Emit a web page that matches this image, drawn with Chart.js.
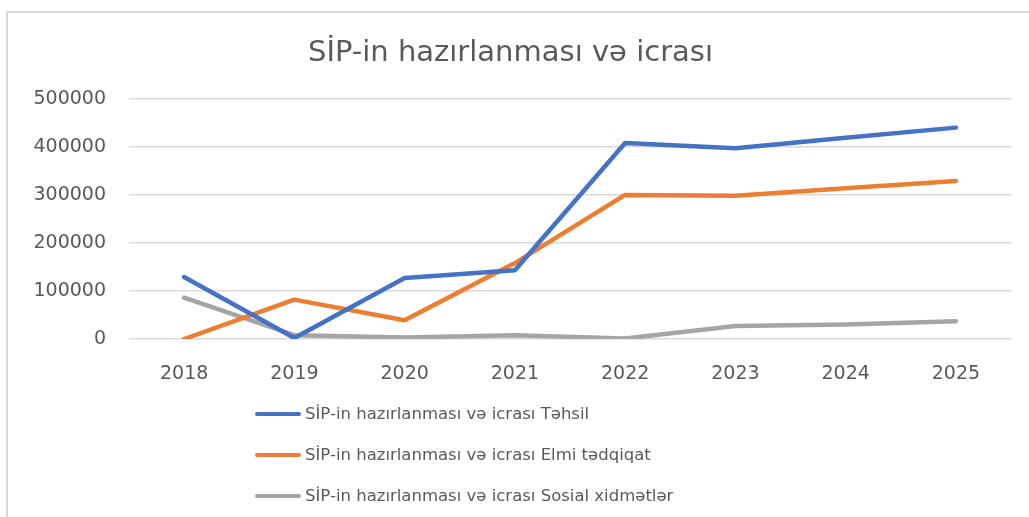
<!DOCTYPE html>
<html lang="az">
<head>
    <meta charset="UTF-8">
    <title>SİP-in hazırlanması və icrası</title>
    <script src="https://cdn.jsdelivr.net/npm/chart.js"></script>
    <style>
        body {
            margin: 0;
            padding: 0;
            background-color: #ffffff;
            overflow: hidden;
        }
        .wrap {
            position: relative;
            width: 1029px;
            height: 517px;
            overflow: hidden;
        }
        .frame {
            position: absolute;
            left: 6px;
            top: 11px;
            width: 1100px;
            height: 600px;
            border: 2px solid #d9d9d9;
        }
        #chart {
            position: absolute;
            left: 0;
            top: 0;
        }
        #legend {
            position: absolute;
            left: 255px;
            top: 400px;
            font-family: "DejaVu Sans", sans-serif;
            font-size: 16.5px;
            color: #595959;
        }
        #legend .item {
            height: 41px;
            display: flex;
            align-items: center;
            position: relative;
            top: -7px;
        }
        #legend .line {
            width: 46px;
            height: 4px;
            border-radius: 2px;
            margin-right: 4px;
        }
    </style>
</head>
<body>
    <div class="wrap">
        <div class="frame"></div>
        <canvas id="chart" width="1029" height="517"></canvas>
        <div id="legend"></div>
    </div>

    <script>
        // chart data
        const years = ['2018', '2019', '2020', '2021', '2022', '2023', '2024', '2025'];
        const tehsil = [129000, 2000, 127000, 143000, 408000, 397000, 419000, 440000];
        const elmiTedqiqat = [0, 82000, 39000, 158000, 300000, 298000, 314000, 329000];
        const sosialXidmetler = [86000, 8000, 3000, 8000, 1000, 27000, 30000, 37000];
        const yTicks = [0, 100000, 200000, 300000, 400000, 500000];

        const seriesNames = [
            'SİP-in hazırlanması və icrası Təhsil',
            'SİP-in hazırlanması və icrası Elmi tədqiqat',
            'SİP-in hazırlanması və icrası Sosial xidmətlər'
        ];
        const colors = ['#4472C4', '#ED7D31', '#A5A5A5'];
        const values = [tehsil, elmiTedqiqat, sosialXidmetler];

        const datasets = values.map((v, i) => ({
            label: seriesNames[i],
            data: v,
            borderColor: colors[i],
            backgroundColor: colors[i],
            borderWidth: 4.5,
            borderCapStyle: 'round',
            borderJoinStyle: 'round',
            pointRadius: 0,
            tension: 0,
            fill: false
        }));

        const ctx = document.getElementById('chart').getContext('2d');
        const chart = new Chart(ctx, {
            type: 'line',
            data: {
                labels: years,
                datasets: datasets
            },
            options: {
                responsive: false,
                animation: false,
                layout: {
                    padding: { left: 10, right: 18, top: 0, bottom: 128 }
                },
                plugins: {
                    legend: { display: false },
                    tooltip: { enabled: false },
                    title: {
                        display: true,
                        text: 'SİP-in hazırlanması və icrası',
                        color: '#595959',
                        font: { family: 'DejaVu Sans', size: 29, weight: 'normal' },
                        padding: { top: 36, bottom: 28 }
                    }
                },
                scales: {
                    x: {
                        offset: true,
                        grid: { display: false },
                        border: { display: false },
                        ticks: {
                            color: '#595959',
                            font: { family: 'DejaVu Sans', size: 19 },
                            padding: 16,
                            maxRotation: 0
                        },
                        afterFit: (scale) => { scale.height = 50; }
                    },
                    y: {
                        min: 0,
                        max: 500000,
                        afterBuildTicks: (scale) => {
                            scale.ticks = yTicks.map(v => ({ value: v }));
                        },
                        grid: {
                            color: '#d9d9d9',
                            lineWidth: 1.5,
                            drawTicks: false
                        },
                        border: { display: false },
                        ticks: {
                            color: '#595959',
                            font: { family: 'DejaVu Sans', size: 19 },
                            padding: 23,
                            callback: (v) => String(v)
                        },
                        afterFit: (scale) => { scale.width = 119; }
                    }
                }
            }
        });

        // legend under the chart, one row per series
        const legend = document.getElementById('legend');
        chart.data.datasets.forEach(ds => {
            const item = document.createElement('div');
            item.className = 'item';
            const line = document.createElement('span');
            line.className = 'line';
            line.style.backgroundColor = ds.borderColor;
            const text = document.createElement('span');
            text.textContent = ds.label;
            item.appendChild(line);
            item.appendChild(text);
            legend.appendChild(item);
        });
    </script>
</body>
</html>
